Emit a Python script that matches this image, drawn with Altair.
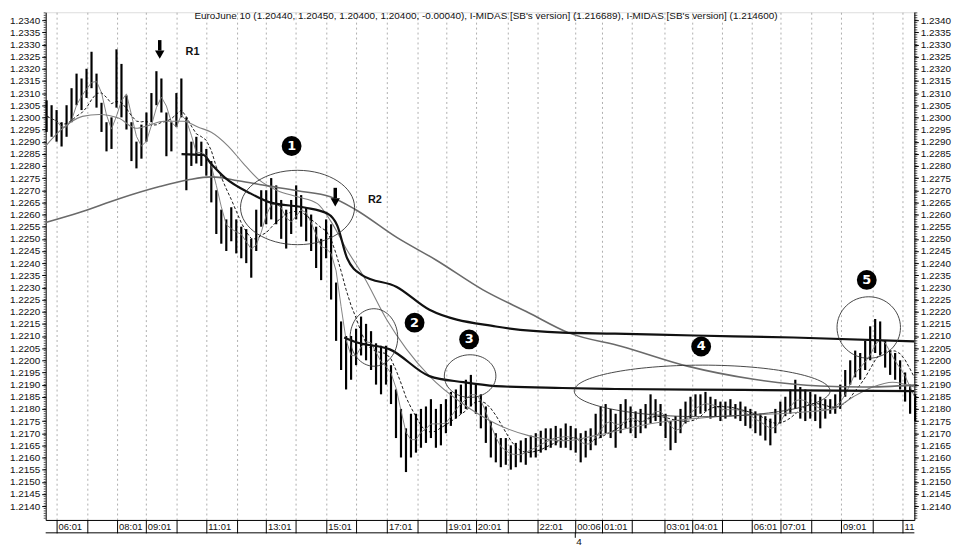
import altair as alt
import pandas as pd

TITLE = ("EuroJune 10 (1.20440, 1.20450, 1.20400, 1.20400, -0.00040), "
         "I-MIDAS [SB's version] (1.216689), I-MIDAS [SB's version] (1.214600)")

# ---- 10-minute price bars (t in hours after 06:01, first bar index -2) ----
BAR_LOW = [
    1.2294, 1.2292,
    1.2290, 1.2288, 1.2292, 1.2298, 1.2305, 1.2303,
    1.2308, 1.2312, 1.2304, 1.2294, 1.2286, 1.2287,
    1.2304, 1.2300, 1.2295, 1.2282, 1.2279, 1.2283,
    1.2290, 1.2298, 1.2305, 1.2302, 1.2284, 1.2286,
    1.2296, 1.2300, 1.2270, 1.2280, 1.2281, 1.2280,
    1.2276, 1.2265, 1.2252, 1.2248, 1.2245, 1.2249,
    1.2244, 1.2242, 1.2240, 1.2234, 1.2245, 1.2255,
    1.2256, 1.2258, 1.2256, 1.2250, 1.2246, 1.2252,
    1.2258, 1.2255, 1.2249, 1.2245, 1.2238, 1.2233,
    1.2242, 1.2225, 1.2208, 1.2196, 1.2188, 1.2192,
    1.2198, 1.2202, 1.2200, 1.2196, 1.2190, 1.2186,
    1.2190, 1.2182, 1.2168, 1.2160, 1.2154, 1.2160,
    1.2162, 1.2164, 1.2166, 1.2168, 1.2164, 1.2165,
    1.2170, 1.2173, 1.2176, 1.2178, 1.2180, 1.2181,
    1.2178, 1.2172, 1.2166, 1.2160, 1.2158, 1.2156,
    1.2157, 1.2155, 1.2156, 1.2158, 1.2157, 1.2160,
    1.2160, 1.2162, 1.2163, 1.2164, 1.2165, 1.2164,
    1.2164, 1.2163, 1.2162, 1.2158, 1.2160, 1.2163,
    1.2165, 1.2168, 1.2170, 1.2168, 1.2164, 1.2170,
    1.2172, 1.2170, 1.2168, 1.2170, 1.2172, 1.2174,
    1.2175, 1.2173, 1.2168, 1.2163, 1.2166, 1.2170,
    1.2174, 1.2176, 1.2177, 1.2178, 1.2179, 1.2176,
    1.2177, 1.2175, 1.2176, 1.2177, 1.2176, 1.2175,
    1.2173, 1.2172, 1.2170, 1.2169, 1.2167, 1.2165,
    1.2170, 1.2174, 1.2177, 1.2178, 1.2180, 1.2176,
    1.2175, 1.2176, 1.2175, 1.2172, 1.2176, 1.2178,
    1.2178, 1.2180, 1.2185, 1.2190, 1.2193, 1.2192,
    1.2196, 1.2200, 1.2203, 1.2202, 1.2197, 1.2194,
    1.2192, 1.2188, 1.2183, 1.2178, 1.2175,
]
BAR_HIGH = [
    1.2307, 1.2305,
    1.2303, 1.2298, 1.2305, 1.2312, 1.2318, 1.2316,
    1.2320, 1.2327, 1.2318, 1.2306, 1.2298, 1.2300,
    1.2328, 1.2322, 1.2309, 1.2298, 1.2290, 1.2297,
    1.2302, 1.2310, 1.2319, 1.2316, 1.2302, 1.2298,
    1.2310, 1.2316, 1.2300, 1.2290, 1.2292, 1.2290,
    1.2287, 1.2282, 1.2270, 1.2262, 1.2258, 1.2263,
    1.2258, 1.2255, 1.2254, 1.2250, 1.2262, 1.2270,
    1.2270, 1.2275, 1.2272, 1.2266, 1.2262, 1.2266,
    1.2272, 1.2268, 1.2263, 1.2260, 1.2255, 1.2250,
    1.2258, 1.2256, 1.2232, 1.2216, 1.2210, 1.2210,
    1.2213, 1.2218, 1.2215, 1.2212, 1.2207, 1.2206,
    1.2206, 1.2198, 1.2188, 1.2180, 1.2172, 1.2178,
    1.2178, 1.2180, 1.2181, 1.2184, 1.2180, 1.2182,
    1.2184, 1.2187, 1.2188, 1.2190, 1.2192, 1.2194,
    1.2190, 1.2186, 1.2181, 1.2175, 1.2170, 1.2168,
    1.2168, 1.2165, 1.2166, 1.2167, 1.2168, 1.2169,
    1.2170, 1.2171, 1.2172, 1.2172, 1.2173, 1.2172,
    1.2174, 1.2173, 1.2172, 1.2170, 1.2171, 1.2172,
    1.2178, 1.2181, 1.2182, 1.2180, 1.2178, 1.2182,
    1.2184, 1.2181, 1.2179, 1.2180, 1.2182, 1.2186,
    1.2184, 1.2182, 1.2178, 1.2175, 1.2177, 1.2180,
    1.2183, 1.2185, 1.2186, 1.2186, 1.2187, 1.2185,
    1.2184, 1.2183, 1.2183, 1.2184, 1.2182, 1.2183,
    1.2181, 1.2180, 1.2179, 1.2178, 1.2177, 1.2176,
    1.2180, 1.2183, 1.2185, 1.2188, 1.2192, 1.2189,
    1.2188, 1.2187, 1.2186, 1.2185, 1.2184, 1.2184,
    1.2186, 1.2190, 1.2196, 1.2200, 1.2204, 1.2203,
    1.2208, 1.2214, 1.2217, 1.2216, 1.2208, 1.2204,
    1.2203, 1.2200, 1.2195, 1.2190, 1.2186,
]
BAR_MINUTES = 10
FIRST_BAR = -2

# ---- MIDAS curves: (hours after 06:01, price) ----
MIDAS_A = [(-0.364, 1.22882), (0.099, 1.22943), (0.861, 1.23004), (1.424, 1.23012),
           (2.086, 1.22996), (2.649, 1.22955), (3.079, 1.22967), (3.576, 1.22984),
           (4.238, 1.22984), (4.735, 1.22959), (5.166, 1.22939), (5.728, 1.22882),
           (6.225, 1.22812), (6.722, 1.22747), (7.384, 1.22698), (8.046, 1.22673),
           (8.709, 1.22645), (9.139, 1.22576), (9.702, 1.22453), (10.265, 1.22343),
           (11.026, 1.22167), (11.689, 1.22045), (12.45, 1.21935), (13.576, 1.21820),
           (14.669, 1.21739), (15.762, 1.21690), (16.987, 1.21669), (17.98, 1.21690),
           (19.636, 1.21735), (21.954, 1.21767), (24.603, 1.21784), (25.927, 1.21800),
           (26.589, 1.21849), (27.252, 1.21890), (27.914, 1.21910), (28.64, 1.21890)]
MIDAS_B = [(-0.364, 1.22567), (0.762, 1.22608), (2.086, 1.22665), (3.411, 1.22714),
           (4.404, 1.22743), (5.166, 1.22755), (6.06, 1.22739), (7.053, 1.22718),
           (8.046, 1.22698), (9.139, 1.22673), (9.934, 1.22624), (11.358, 1.22506),
           (12.682, 1.22412), (14.238, 1.22290), (15.762, 1.22196), (17.086, 1.22114),
           (18.874, 1.22057), (21.06, 1.21976), (23.278, 1.21922), (25.497, 1.21894),
           (26.92, 1.21890), (28.64, 1.21898)]
MIDAS_C = [(4.172, 1.22849), (4.9, 1.22845), (5.166, 1.22808), (5.629, 1.22751),
           (6.49, 1.22686), (7.152, 1.22649), (8.278, 1.22629), (9.04, 1.22604),
           (9.371, 1.22555), (9.702, 1.22420), (10.199, 1.22351), (11.358, 1.22302),
           (12.45, 1.22208), (14.669, 1.22139), (16.887, 1.22114), (18.642, 1.22110),
           (21.29, 1.22102), (24.603, 1.22094), (28.64, 1.22078)]
MIDAS_D = [(9.603, 1.22094), (10.033, 1.22073), (11.126, 1.22045), (12.45, 1.21935),
           (13.576, 1.21910), (14.669, 1.21894), (16.887, 1.21886), (18.642, 1.21882),
           (22.947, 1.21878), (28.64, 1.21873)]

# ---- time axis boxes ----
SEP = [0, 1.026, 2.02, 2.98, 4.007, 5.0, 6.03, 6.99, 7.98, 9.007, 10.0, 11.03,
       12.05, 13.01, 14.0, 15.07, 16.06, 17.32, 18.21, 19.21, 20.30, 21.23,
       22.22, 23.21, 24.17, 25.2, 26.19, 27.25, 28.25]
TIME_LABELS = [(0, "06:01"), (2.02, "08:01"), (2.98, "09:01"), (5.0, "11:01"),
               (6.99, "13:01"), (9.007, "15:01"), (11.03, "17:01"), (13.01, "19:01"),
               (14.0, "20:01"), (16.06, "22:01"), (17.32, "00:06"), (18.21, "01:01"),
               (20.30, "03:01"), (21.23, "04:01"), (23.21, "06:01"), (24.17, "07:01"),
               (26.19, "09:01"), (28.25, "11")]
DAY_LABEL = [(17.32, "4")]

# ---- annotations ----
ELLIPSES = [(8.046, 1.22629, 115, 75), (10.596, 1.22094, 48, 58),
            (13.808, 1.21935, 52, 43), (21.556, 1.21874, 258, 52),
            (27.119, 1.22135, 64, 62)]
BADGES = [(7.848, 1.22882, "1"), (11.954, 1.22155, "2"), (13.775, 1.22086, "3"),
          (21.523, 1.22057, "4"), (27.053, 1.22331, "5")]
ARROWS = [(3.444, 1.23318, 1.23275, 1.23258), (9.305, 1.22710, 1.22668, 1.22650)]
ARROW_TEXT = [(4.305, 1.23269, "R1"), (10.397, 1.22661, "R2")]

X_DOMAIN = [-0.364, 28.642]
Y_DOMAIN = [1.213429, 1.234327]
MAJOR = [round(1.2140 + 0.0005 * k, 4) for k in range(41)]
MINOR = [round(1.2135 + 0.0001 * k, 4) for k in range(209)]

W, H = 876, 512

xs = alt.Scale(domain=X_DOMAIN, nice=False, zero=False)
ys = alt.Scale(domain=Y_DOMAIN, nice=False, zero=False)

bars = pd.DataFrame({"low": BAR_LOW, "high": BAR_HIGH})
bars["t"] = [(k + FIRST_BAR) * BAR_MINUTES / 60 for k in range(len(bars))]

axis_font = dict(labelFont="Liberation Sans", labelFontSize=10, labelColor="#111",
                 tickColor="#000", domainColor="#000", tickSize=4, labelPadding=2,
                 grid=False, title=None, values=MAJOR, format=".4f")

x_axis = alt.Axis(values=SEP, labels=False, tickSize=13, tickColor="#000",
                  domainColor="#000", grid=True, gridDash=[2, 3], gridColor="#9a9a9a",
                  gridWidth=0.8, title=None)

bar_layer = alt.Chart(bars).mark_rule(color="#000", strokeWidth=2.2).encode(
    x=alt.X("t:Q", scale=xs, axis=x_axis),
    y=alt.Y("low:Q", scale=ys, axis=alt.Axis(orient="left", **axis_font)),
    y2="high:Q",
)

ma_base = alt.Chart(bars).transform_calculate(
    mid="(datum.low + datum.high) / 2"
).transform_window(
    ma_fast="mean(mid)", frame=[-2, 0], sort=[{"field": "t"}]
).transform_window(
    ma_slow="mean(mid)", frame=[-6, 0], sort=[{"field": "t"}]
)
ma_fast = ma_base.mark_line(color="#777", strokeWidth=0.9, clip=True).encode(
    x=alt.X("t:Q", scale=xs, axis=None), y=alt.Y("ma_fast:Q", scale=ys, axis=None))
ma_slow = ma_base.mark_line(color="#000", strokeWidth=0.9, strokeDash=[3, 2], clip=True).encode(
    x=alt.X("t:Q", scale=xs, axis=None), y=alt.Y("ma_slow:Q", scale=ys, axis=None))


def curve(points, color, width):
    df = pd.DataFrame(points, columns=["t", "price"])
    return alt.Chart(df).mark_line(color=color, strokeWidth=width, interpolate="monotone",
                                   clip=True).encode(
        x=alt.X("t:Q", scale=xs, axis=None), y=alt.Y("price:Q", scale=ys, axis=None))


curves = [curve(MIDAS_A, "#808080", 1.1), curve(MIDAS_B, "#6a6a6a", 1.6),
          curve(MIDAS_C, "#111", 2.2), curve(MIDAS_D, "#111", 2.2)]

ell_rows = []
for t, p, w, h in ELLIPSES:
    m = max(w, h)
    rx, ry = w / m, h / m
    path = f"M{-rx},0 A{rx},{ry} 0 1,0 {rx},0 A{rx},{ry} 0 1,0 {-rx},0 Z"
    ell_rows.append({"t": t, "price": p, "shape": path, "size": m * m})
ell_layer = alt.Chart(pd.DataFrame(ell_rows)).mark_point(
    filled=False, color="#333", strokeWidth=0.9, opacity=1).encode(
    x=alt.X("t:Q", scale=xs, axis=None), y=alt.Y("price:Q", scale=ys, axis=None),
    shape=alt.Shape("shape:N", scale=None), size=alt.Size("size:Q", scale=None))

badges = pd.DataFrame(BADGES, columns=["t", "price", "num"])
badge_dots = alt.Chart(badges).mark_point(filled=True, color="#000", shape="circle",
                                          size=400, opacity=1).encode(
    x=alt.X("t:Q", scale=xs, axis=None), y=alt.Y("price:Q", scale=ys, axis=None))
badge_text = alt.Chart(badges).mark_text(color="#fff", fontWeight="bold", fontSize=13,
                                         font="DejaVu Sans", baseline="middle",
                                         align="center").encode(
    x=alt.X("t:Q", scale=xs, axis=None), y=alt.Y("price:Q", scale=ys, axis=None),
    text="num:N")

arrows = pd.DataFrame(ARROWS, columns=["t", "top", "bottom", "head"])
arrow_shaft = alt.Chart(arrows).mark_rule(color="#000", strokeWidth=3.5).encode(
    x=alt.X("t:Q", scale=xs, axis=None), y=alt.Y("top:Q", scale=ys, axis=None),
    y2="bottom:Q")
arrow_head = alt.Chart(arrows).mark_point(filled=True, color="#000", shape="triangle-down",
                                          size=90, opacity=1).encode(
    x=alt.X("t:Q", scale=xs, axis=None), y=alt.Y("head:Q", scale=ys, axis=None))
arrow_text = alt.Chart(pd.DataFrame(ARROW_TEXT, columns=["t", "price", "txt"])).mark_text(
    align="left", baseline="middle", fontWeight="bold", fontSize=11, color="#111",
    font="Liberation Sans").encode(
    x=alt.X("t:Q", scale=xs, axis=None), y=alt.Y("price:Q", scale=ys, axis=None),
    text="txt:N")

time_text = alt.Chart(pd.DataFrame(TIME_LABELS, columns=["t", "label"])).mark_text(
    align="left", baseline="top", fontSize=9.5, dx=2, color="#111",
    font="Liberation Sans").encode(
    x=alt.X("t:Q", scale=xs, axis=None), y=alt.value(H + 2), text="label:N")
day_text = alt.Chart(pd.DataFrame(DAY_LABEL, columns=["t", "label"])).mark_text(
    align="left", baseline="top", fontSize=10, dx=1, color="#111",
    font="Liberation Sans").encode(
    x=alt.X("t:Q", scale=xs, axis=None), y=alt.value(H + 17), text="label:N")
day_tick = alt.Chart(pd.DataFrame(DAY_LABEL, columns=["t", "label"])).mark_rule(
    color="#000", strokeWidth=1).encode(
    x=alt.X("t:Q", scale=xs, axis=None), y=alt.value(H + 13), y2=alt.value(H + 18))
box_bottom = alt.Chart(pd.DataFrame({"a": [0]})).mark_rule(color="#000", strokeWidth=1).encode(
    x=alt.value(0), x2=alt.value(W), y=alt.value(H + 13))

minor = pd.DataFrame({"v": MINOR})
minor_left = alt.Chart(minor).mark_rule(color="#000", strokeWidth=0.7).encode(
    y=alt.Y("v:Q", scale=ys, axis=None), x=alt.value(-2), x2=alt.value(0))
minor_right = alt.Chart(minor).mark_rule(color="#000", strokeWidth=0.7).encode(
    y=alt.Y("v:Q", scale=ys, axis=alt.Axis(orient="right", **axis_font)),
    x=alt.value(W), x2=alt.value(W + 3))

title_layer = alt.Chart(pd.DataFrame({"txt": [TITLE]})).mark_text(
    align="center", baseline="middle", fontSize=10, color="#111",
    font="Liberation Sans").encode(x=alt.value(444), y=alt.value(4), text="txt:N")

chart = alt.layer(
    bar_layer, minor_left, minor_right, ma_fast, ma_slow, *curves, ell_layer,
    arrow_shaft, arrow_head, arrow_text, badge_dots, badge_text,
    time_text, day_text, day_tick, box_bottom, title_layer,
).resolve_axis(x="independent", y="independent").properties(
    width=W, height=H,
    padding={"left": 38, "top": 2, "right": 43, "bottom": 24},
    autosize=alt.AutoSizeParams(type="none"),
).configure_view(stroke=None).configure(background="#fff")

chart.save("out.html", embed_options={"renderer": "svg", "actions": False})
